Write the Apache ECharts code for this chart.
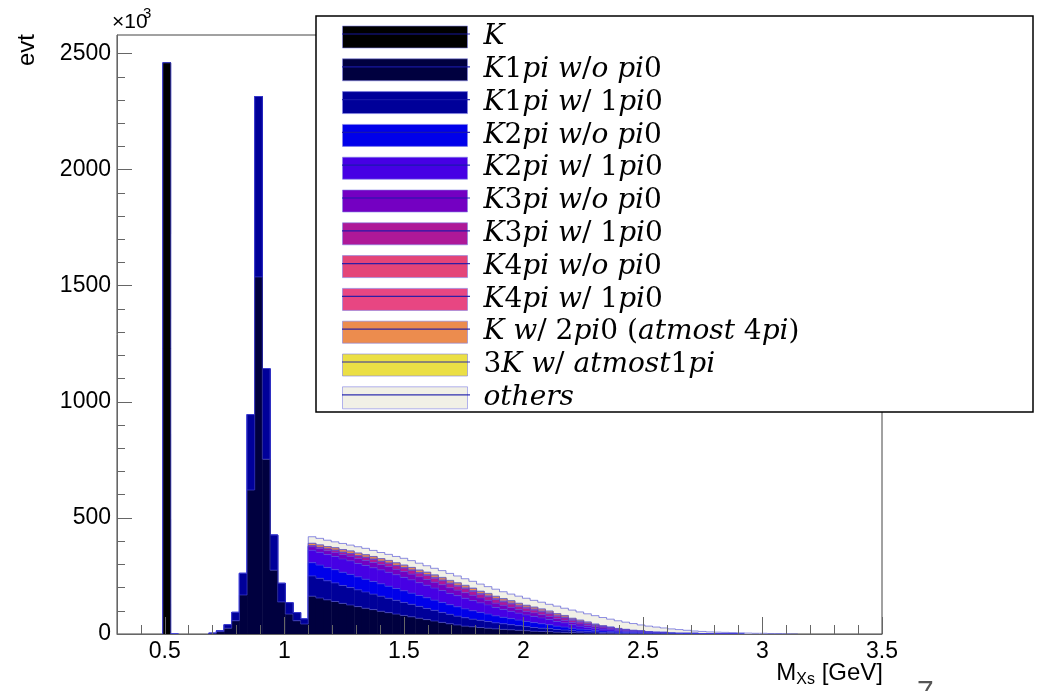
<!DOCTYPE html>
<html><head><meta charset="utf-8">
<script src="https://cdn.jsdelivr.net/npm/echarts@6/dist/echarts.min.js"></script>
<style>html,body{margin:0;padding:0;background:#fff}#c{width:1049px;height:691px}</style>
</head><body><div id="c"></div><script>
// ---- histogram binning ----
const X_MIN = 0.3, X_MAX = 3.5, BIN_WIDTH = 0.032, N_BINS = 100;
const Y_MAX = 2580;                       // in units of 10^3 events
const xTickLabels = [0.5, 1, 1.5, 2, 2.5, 3, 3.5];
const yTickLabels = [0, 500, 1000, 1500, 2000, 2500];

const seriesNames = ['K', 'K1pi w/o pi0', 'K1pi w/ 1pi0', 'K2pi w/o pi0', 'K2pi w/ 1pi0',
  'K3pi w/o pi0', 'K3pi w/ 1pi0', 'K4pi w/o pi0', 'K4pi w/ 1pi0',
  'K w/ 2pi0 (atmost 4pi)', '3K w/ atmost1pi', 'others'];
const seriesColors = ['#000000', '#00003f', '#000099', '#0000ea', '#4600e4', '#7400c2',
  '#ae1898', '#e44478', '#e84682', '#ec8c4e', '#ebdf45', '#f1f0e6'];

// resonance region: bins 6..24 (0.492 - 1.100 GeV)
const PEAK_FIRST_BIN = 6;
const K_peak       = [2460, 0, 0, 0, 0, 0, 0, 0, 0, 0, 0, 0, 0, 0, 0, 0, 0, 0, 0];
const K1piWo_peak  = [0, 0, 0, 0, 0, 0, 3, 10, 25, 57, 168, 620, 1538, 753, 275, 138, 86, 57, 43];
const K1pi1_peak   = [0, 0, 0, 0, 0, 0, 0, 4, 15, 36, 93, 325, 777, 390, 151, 80, 49, 35, 22];

// continuum: bins 25..87 (1.100 - 3.116 GeV)
const CONT_FIRST_BIN = 25;
const K1piWo_cont = [163,155,147,140,132,125,118,111,105,98, 92,86,80,74,68,62,56,50,44,39,
  34,31,28,25,22,20,18,16,14,12, 11,10,8,7,6,5,4,4,3,3, 2,2,2,1,1,1,1,1,0,0,
  0,0,0,0,0,0,0,0,0,0, 0,0,0];
const K1pi1_cont = [87,85,82,80,77,75,72,70,67,65, 62,59,56,54,51,48,46,43,41,38,
  36,33,31,29,26,24,22,20,18,16, 14,13,11,10,8,7,6,5,4,4, 3,2,2,2,1,1,1,0,0,0,
  0,0,0,0,0,0,0,0,0,0, 0,0,0];
const K2piWo_cont = [57,57,57,57,57,57,56,55,54,53, 52,51,50,48,47,46,44,43,41,40,
  38,36,34,32,30,28,26,24,22,21, 19,17,15,13,11,9,8,7,6,5, 4,3,3,2,2,1,1,1,1,1,
  1,0,0,0,0,0,0,0,0,0, 0,0,0];
const K2pi1_cont = [54,55,56,57,57,58,58,59,59,60, 60,59,58,57,55,54,52,51,49,48,
  46,44,41,39,36,34,32,30,28,27, 25,23,20,18,15,13,11,9,8,6, 5,4,3,3,2,2,2,1,1,1,
  1,1,1,1,1,1,0,0,0,0, 0,0,0];
const K3piWo_cont = [14,15,17,18,19,20,21,22,23,23, 24,24,25,25,25,25,25,25,24,24,
  24,23,21,20,19,18,17,16,16,15, 14,13,12,11,10,9,8,6,5,4, 3,3,2,2,1,1,1,0,0,0,
  0,0,0,0,0,0,0,0,0,0, 0,0,0];
const K3pi1_cont = [5,6,7,8,9,10,11,12,13,13, 14,15,15,16,16,17,17,17,17,17,
  17,16,16,15,15,14,14,13,13,12, 12,11,10,10,9,8,7,6,5,4, 3,3,2,2,2,1,1,1,1,1,
  1,0,0,0,0,0,0,0,0,0, 0,0,0];
const K4piWo_cont = [0,0,0,1,1,1,1,1,1,1, 1,1,1,1,1,2,2,2,2,2,
  2,2,2,2,2,2,2,2,2,2, 2,2,2,2,1,1,1,1,1,1, 1,1,0,0,0,0,0,0,0,0,
  0,0,0,0,0,0,0,0,0,0, 0,0,0];
const K4pi1_cont = [0,0,0,0,1,1,1,1,1,1, 1,1,1,1,2,2,2,2,2,2,
  2,2,2,3,3,3,3,3,3,3, 3,3,3,2,2,2,2,1,1,1, 1,1,1,1,0,0,0,0,0,0,
  0,0,0,0,0,0,0,0,0,0, 0,0,0];
const K2pi0_cont = [10,10,10,10,10,10,10,10,10,10, 10,10,10,10,9,9,9,9,9,9,
  9,9,8,8,8,8,8,7,7,7, 7,6,6,6,5,5,4,3,3,2, 2,1,1,1,1,1,0,0,0,0,
  0,0,0,0,0,0,0,0,0,0, 0,0,0];
const K3_cont = [1,1,1,1,1,1,1,1,1,1, 1,1,1,1,2,2,2,2,2,2,
  2,2,2,2,2,2,2,2,1,1, 1,1,1,1,1,1,1,1,0,0, 0,0,0,0,0,0,0,0,0,0,
  0,0,0,0,0,0,0,0,0,0, 0,0,0];
const others_cont = [28,28,27,25,26,25,27,27,26,26, 26,27,29,29,29,27,28,29,30,29,
  28,29,30,29,30,29,28,30,30,29, 29,29,32,31,35,35,35,36,35,34, 33,31,29,25,24,22,19,18,16,13,
  10,10,8,7,6,5,5,4,3,3, 2,2,1];

const peakValues = [K_peak, K1piWo_peak, K1pi1_peak, null, null, null, null, null, null, null, null, null];
const contValues = [null, K1piWo_cont, K1pi1_cont, K2piWo_cont, K2pi1_cont, K3piWo_cont, K3pi1_cont,
  K4piWo_cont, K4pi1_cont, K2pi0_cont, K3_cont, others_cont];

function fullBins(peak, cont) {
  const a = new Array(N_BINS).fill(0);
  (peak || []).forEach((v, i) => { a[PEAK_FIRST_BIN + i] = v; });
  (cont || []).forEach((v, i) => { a[CONT_FIRST_BIN + i] = v; });
  return a;
}
const layers = seriesNames.map((n, i) => fullBins(peakValues[i], contValues[i]));
let run = new Array(N_BINS).fill(0);
const stacks = layers.map(l => {
  const base = run.slice();
  run = run.map((v, b) => v + l[b]);
  return { base, top: run.slice() };
});

const OUTLINE = 'rgba(70,70,215,0.6)';
const series = seriesNames.map((name, s) => {
  const data = [];
  for (let b = 0; b < N_BINS; b++) {
    const top = stacks[s].top[b], base = stacks[s].base[b];
    const prevTop = b > 0 ? stacks[s].top[b - 1] : 0;
    if (top > 0 || prevTop > 0) {
      const x0 = X_MIN + b * BIN_WIDTH;
      data.push([x0, x0 + BIN_WIDTH, base, top, prevTop]);
    }
  }
  const color = seriesColors[s];
  return {
    type: 'custom', name, data, z: 20 - s,
    itemStyle: { color },
    encode: { x: [0, 1], y: [2, 3] },
    renderItem(params, api) {
      const x0 = api.value(0), x1 = api.value(1), y0 = api.value(2), y1 = api.value(3), yp = api.value(4);
      const a = api.coord([x0, y0]), c = api.coord([x1, y1]), p = api.coord([x0, yp]);
      const children = [];
      if (y1 > y0) {
        children.push({ type: 'rect', shape: { x: a[0], y: c[1], width: c[0] - a[0] + 0.5, height: a[1] - c[1] },
          style: { fill: color } });
      }
      children.push({ type: 'polyline', shape: { points: [[p[0], p[1]], [a[0], c[1]], [c[0], c[1]]] },
        style: { stroke: OUTLINE, lineWidth: 1, fill: null } });
      return { type: 'group', children };
    }
  };
});

const xMinor = [], yMinor = [];
for (let i = 0; i <= 32; i++) xMinor.push(+(X_MIN + i * 0.1).toFixed(2));
for (let v = 100; v < Y_MAX; v += 100) yMinor.push(v);

const tickColor = '#666';
const labelFont = { fontFamily: 'Liberation Sans', fontSize: 23, color: '#000' };

function toRich(name) {
  return '{g|}' + name.replace(/([A-Za-z]+)|([^A-Za-z]+)/g, (m, a, b) => a ? '{i|' + a + '}' : '{n|' + b + '}');
}

// legend layout: one row per entry
const LEG_LEFT = 342, LEG_TOP = 23, LEG_W = 125, LEG_H = 22, LEG_PITCH = 32.8;
const legendRich = {
  g: { width: 11, lineHeight: 22 },
  i: { fontFamily: 'DejaVu Serif', fontStyle: 'italic', fontSize: 28, color: '#000', lineHeight: 22 },
  n: { fontFamily: 'DejaVu Serif', fontSize: 28, color: '#000', lineHeight: 22 }
};
const legends = seriesNames.map((n, i) => ({
  orient: 'vertical', left: LEG_LEFT, top: LEG_TOP + i * LEG_PITCH, padding: 0, z: 44,
  itemWidth: LEG_W, itemHeight: LEG_H, icon: 'rect', itemTextGap: 5, selectedMode: false,
  data: [{ name: n, itemStyle: { color: seriesColors[i], borderColor: 'rgba(130,130,230,0.6)', borderWidth: 1 } }],
  formatter: toRich,
  textStyle: { lineHeight: 22, rich: legendRich }
}));
const swatchLines = seriesNames.map((n, i) => ({
  type: 'line', z: 45,
  shape: { x1: LEG_LEFT, y1: LEG_TOP + LEG_H / 2 + i * LEG_PITCH, x2: LEG_LEFT + LEG_W + 3, y2: LEG_TOP + LEG_H / 2 + i * LEG_PITCH },
  style: { stroke: 'rgba(25,25,170,0.9)', lineWidth: 1.2 }
}));

const option = {
  animation: false,
  grid: { left: 117, right: 167, top: 35, bottom: 57, show: true, borderColor: '#444', borderWidth: 1, backgroundColor: 'transparent' },
  xAxis: [{
    type: 'value', min: X_MIN, max: X_MAX, position: 'bottom', z: 30,
    axisLine: { show: true, lineStyle: { color: tickColor } },
    axisTick: { show: true, inside: true, length: 17, customValues: xTickLabels, lineStyle: { color: tickColor } },
    axisLabel: Object.assign({ customValues: xTickLabels, margin: 6, formatter: v => String(v) }, labelFont),
    splitLine: { show: false }
  }, {
    type: 'value', min: X_MIN, max: X_MAX, position: 'bottom', z: 30,
    axisLine: { show: false },
    axisTick: { show: true, inside: true, length: 9, customValues: xMinor, lineStyle: { color: tickColor } },
    axisLabel: { show: false }, splitLine: { show: false }
  }],
  yAxis: [{
    type: 'value', min: 0, max: Y_MAX, position: 'left', z: 30,
    axisLine: { show: true, lineStyle: { color: tickColor } },
    axisTick: { show: true, inside: true, length: 15, customValues: yTickLabels, lineStyle: { color: tickColor } },
    axisLabel: Object.assign({ customValues: yTickLabels, margin: 6, formatter: v => String(v) }, labelFont),
    splitLine: { show: false }
  }, {
    type: 'value', min: 0, max: Y_MAX, position: 'left', z: 30,
    axisLine: { show: false },
    axisTick: { show: true, inside: true, length: 8, customValues: yMinor, lineStyle: { color: tickColor } },
    axisLabel: { show: false }, splitLine: { show: false }
  }],
  legend: legends,
  graphic: [
    { type: 'rect', z: 40, shape: { x: 316, y: 16, width: 717, height: 396 },
      style: { fill: '#fff', stroke: '#000', lineWidth: 1.5 } },
    ...swatchLines,
    { type: 'text', z: 50, x: 27, y: 50, rotation: Math.PI / 2,
      style: { text: 'evt', fontFamily: 'Liberation Sans', fontSize: 24, fill: '#000', align: 'center', verticalAlign: 'middle' } },
    { type: 'text', z: 50, x: 112, y: 12,
      style: { text: '×10', fontFamily: 'Liberation Sans', fontSize: 21, fill: '#000', align: 'left', verticalAlign: 'top' } },
    { type: 'text', z: 50, x: 143, y: 6,
      style: { text: '3', fontFamily: 'Liberation Sans', fontSize: 15, fill: '#000', align: 'left', verticalAlign: 'top' } },
    { type: 'text', z: 50, x: 883, y: 664,
      style: { text: '{m|M}{s|Xs}{m| [GeV]}', align: 'right', verticalAlign: 'top',
        rich: { m: { fontFamily: 'Liberation Sans', fontSize: 24, fill: '#000', lineHeight: 24, padding: [0, 0, 5, 0] },
                s: { fontFamily: 'Liberation Sans', fontSize: 16, fill: '#000', lineHeight: 16, verticalAlign: 'bottom' } } } },
    { type: 'text', z: 50, x: 917, y: 678,
      style: { text: '7', fontFamily: 'Liberation Sans', fontSize: 30, fill: '#555', align: 'left', verticalAlign: 'top' } }
  ],
  series
};
const chart = echarts.init(document.getElementById('c'));
chart.setOption(option);
</script></body></html>
